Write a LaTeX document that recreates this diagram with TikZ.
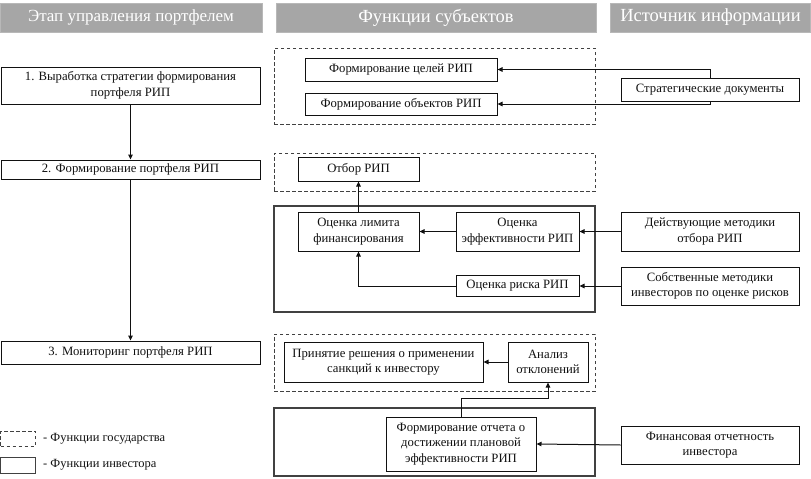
\documentclass[tikz,border=0pt]{standalone}
\usepackage{fontspec}
\setmainfont{Liberation Serif}
\usetikzlibrary{arrows.meta,calc}
\definecolor{hdr}{HTML}{A6A6A6}
\definecolor{ink}{HTML}{111111}
\tikzset{
  hdrbox/.style={fill=hdr, draw=hdr!80!white, line width=0.6pt, text=white, font=\fontsize{18.5}{20}\selectfont, inner sep=0pt},
  box/.style={draw=ink, line width=1pt, fill=white, align=center, text=ink, font=\fontsize{12.7}{15.5}\selectfont, inner sep=1pt},
  gov/.style={draw=ink!80, line width=1pt, dash pattern=on 3.5pt off 2.5pt},
  inv/.style={draw=ink!80, line width=1.1pt},
  arr/.style={draw=ink, line width=1pt, -{Triangle[length=5pt,width=4.5pt]}},
  lgtext/.style={anchor=west, text=ink, font=\fontsize{12.5}{14}\selectfont, inner sep=0pt},
}
\begin{document}
\begin{tikzpicture}[x=1pt,y=-1pt]
\useasboundingbox (0,0) rectangle (811,479);
% headers
\node[hdrbox, font=\fontsize{17}{19}\selectfont, minimum width=262, minimum height=29] (h1) at (131,17.5) {Этап управления портфелем};
\node[hdrbox, minimum width=320, minimum height=29] (h2) at (436,17.5) {Функции субъектов};
\node[hdrbox, minimum width=200, minimum height=29] (h3) at (710.5,17.5) {Источник информации};
% group frames
\node[gov, minimum width=321, minimum height=76] (g1) at (434.5,86) {};
\node[gov, minimum width=321, minimum height=38] (g2) at (434.5,172) {};
\node[inv, minimum width=321, minimum height=106] (i1) at (434.5,259) {};
\node[gov, minimum width=321, minimum height=57] (g3) at (434.5,362.5) {};
\node[inv, minimum width=321, minimum height=68] (i2) at (434.5,442) {};
% stages
\node[box, minimum width=259, minimum height=37] (s1) at (130.5,85.5) {1. Выработка стратегии формирования\\портфеля РИП};
\node[box, minimum width=259, minimum height=19] (s2) at (130.5,169.5) {2. Формирование портфеля РИП};
\node[box, minimum width=259, minimum height=23] (s3) at (130.5,352.5) {3. Мониторинг портфеля РИП};
\draw[arr] (s1.south) -- (s2.north);
\draw[arr] (s2.south) -- (s3.north);
% block 1
\node[box, minimum width=192, minimum height=23] (c1) at (401,69.5) {Формирование целей РИП};
\node[box, minimum width=192, minimum height=22] (c2) at (401,104) {Формирование объектов РИП};
\node[box, minimum width=178, minimum height=23] (sd) at (710,89.5) {Стратегические документы};
\draw[arr] (sd.north) |- (c1.east);
\draw[arr] (sd.south) |- (c2.east);
% block 2
\node[box, minimum width=121, minimum height=24] (ot) at (358.5,169) {Отбор РИП};
\node[box, minimum width=121, minimum height=39] (lim) at (358.5,231.5) {Оценка лимита\\финансирования};
\node[box, minimum width=123, minimum height=39] (eff) at (517.5,231.5) {Оценка\\эффективности РИП};
\node[box, minimum width=123, minimum height=21] (risk) at (517.5,286) {Оценка риска РИП};
\node[box, minimum width=178, minimum height=39] (dm) at (710,231.5) {Действующие методики\\отбора РИП};
\node[box, minimum width=178, minimum height=38] (sm) at (710,286) {Собственные методики\\инвесторов по оценке рисков};
\draw[arr] (lim.north) -- (ot.south);
\draw[arr] (eff.west) -- (lim.east);
\draw[arr] (dm.west) -- (eff.east);
\draw[arr] (sm.west) -- (risk.east);
\draw[arr] (risk.west) -| (lim.south);
% block 3
\node[box, minimum width=199, minimum height=40] (dec) at (383.5,362) {Принятие решения о применении\\санкций к инвестору};
\node[box, minimum width=80, minimum height=40] (an) at (548,362) {Анализ\\отклонений};
\node[box, minimum width=150, minimum height=54] (rep) at (461,444) {Формирование отчета о\\достижении плановой\\эффективности РИП};
\node[box, minimum width=178, minimum height=38] (fin) at (710,445) {Финансовая отчетность\\инвестора};
\draw[arr] (an.west) -- (dec.east);
\draw[arr] (fin.west) -- (rep.east);
\coordinate (bend) at ($(rep.north)+(0,-18)$);
\draw[arr] (rep.north) -- (bend) -| (an.south);
% legend
\node[gov, minimum width=35, minimum height=15] (lg1) at (18,438.5) {};
\node[inv, line width=1pt, minimum width=35, minimum height=16] (lg2) at (18,465) {};
\node[lgtext] (lt1) at (43,438.5) {- Функции государства};
\node[lgtext] (lt2) at (43,465) {- Функции инвестора};
\end{tikzpicture}
\end{document}
